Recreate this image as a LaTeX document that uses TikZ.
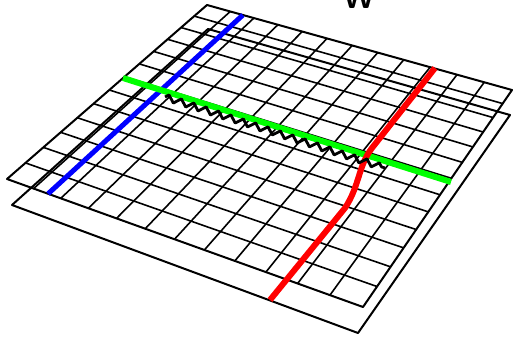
\documentclass[tikz,border=0pt]{standalone}
\usetikzlibrary{decorations.pathmorphing}
\begin{document}
\begin{tikzpicture}[x=1pt,y=-1pt,
  gridline/.style={line width=1.6pt, black},
  planeedge/.style={line width=2pt, black, line join=round},
  declare function={
    hd(\u,\v)=1-0.09115*\u-0.18141*\v;
    hx(\u,\v)=(258.33*\u-201.27*\v+207)/hd(\u,\v);
    hy(\u,\v)=(76.80*\u+141.53*\v+5)/hd(\u,\v);
  }]
\useasboundingbox (0,0) rectangle (513,337);
% lower plane
\coordinate (LT) at (208,29);
\coordinate (LR) at (510,115);
\coordinate (LB) at (358,333);
\coordinate (LL) at (12,205);
\draw[planeedge] (LT) -- (LR) -- (LB) -- (LL) -- cycle;
% upper plane
\coordinate (A) at (207,5);
\coordinate (B) at (512,90);
\coordinate (C) at (363,307);
\coordinate (D) at (7,179);
\foreach \i in {1,...,11}
  \draw[gridline] ({hx(\i/12,0)},{hy(\i/12,0)}) -- ({hx(\i/12,1)},{hy(\i/12,1)});
\foreach \j in {1,...,12}
  \draw[gridline] ({hx(0,\j/13)},{hy(0,\j/13)}) -- ({hx(1,\j/13)},{hy(1,\j/13)});
\draw[planeedge] (A) -- (B) -- (C) -- (D) -- cycle;
% coloured lines
\coordinate (b1) at ({hx(0.128,0)},{hy(0.128,0)});
\coordinate (b2) at ({hx(0.128,1)},{hy(0.128,1)});
\coordinate (g1) at (123,78);
\coordinate (g2) at (451,182);
\coordinate (r1) at (435,68);
\coordinate (r2) at (372,148);
\coordinate (r3) at (345,208);
\coordinate (r4) at (270,300);
\coordinate (z1) at (165,97);
\coordinate (z2) at (385,168);
\draw[line width=5pt, blue] (b1) -- (b2);
\draw[line width=6pt, green] (g1) -- (g2);
\draw[line width=6pt, red] (r1) -- (r2) .. controls (358,166) and (360,185) .. (r3) -- (r4);
\draw[line width=2.8pt, black, line join=round, decorate,
      decoration={zigzag, segment length=13pt, amplitude=3.2pt}] (z1) -- (z2);
\node[font=\fontsize{30}{30}\selectfont\sffamily\bfseries, anchor=base, inner sep=0pt] (w) at (359,9) {W};
\end{tikzpicture}
\end{document}
